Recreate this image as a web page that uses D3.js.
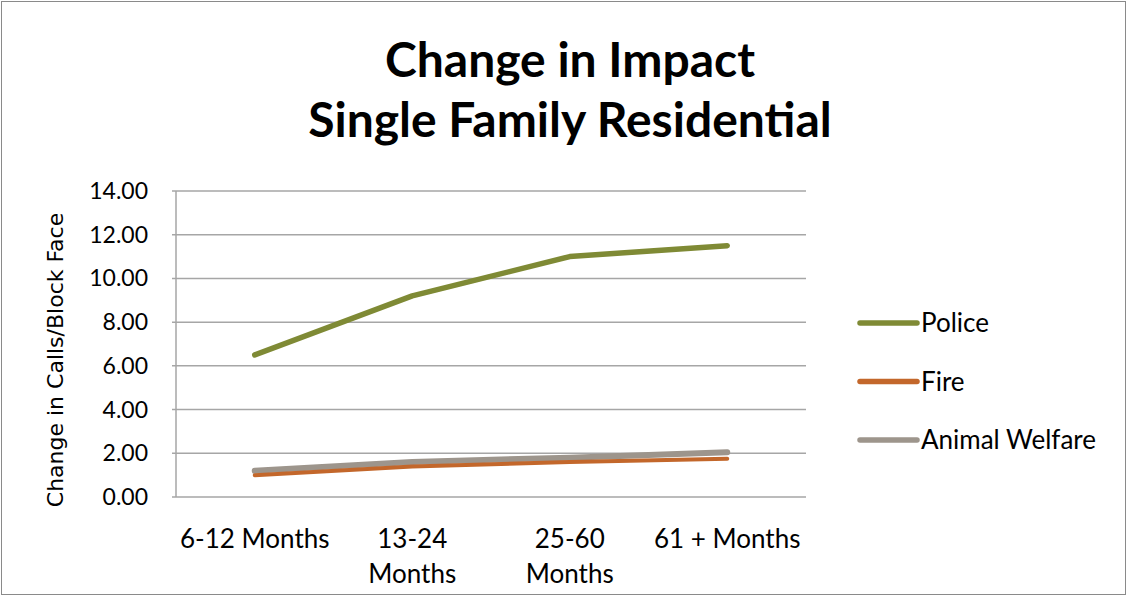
<!DOCTYPE html>
<html>
<head>
<meta charset="utf-8">
<style>
  body { margin: 0; background: #fff; }
  text { font-family: Lato, "Open Sans", sans-serif; fill: #000; }
</style>
</head>
<body>
<script src="https://cdn.jsdelivr.net/npm/d3@7"></script>
<script>
// data
var categories = ["6-12 Months", "13-24 Months", "25-60 Months", "61 + Months"];
var categoryLines = [["6-12 Months"], ["13-24", "Months"], ["25-60", "Months"], ["61 + Months"]];
var seriesNames = ["Police", "Fire", "Animal Welfare"];
var police = [6.5, 9.2, 11.0, 11.5];
var fire = [1.0, 1.4, 1.6, 1.75];
var animalWelfare = [1.2, 1.6, 1.8, 2.05];
var yTicks = [0, 2, 4, 6, 8, 10, 12, 14];

var width = 1127, height = 596;
var margin = {top: 191, right: 321, bottom: 99, left: 176};
var plotW = width - margin.left - margin.right;
var plotH = height - margin.top - margin.bottom;

var colors = ["#7f8a35", "#c3672b", "#9d958c"];
var widths = [5.5, 4, 6];

var svg = d3.select("body").append("svg")
  .attr("width", width)
  .attr("height", height);

// outer frame
svg.append("rect")
  .attr("x", 1.5).attr("y", 1.5)
  .attr("width", width - 3).attr("height", height - 3)
  .attr("fill", "none").attr("stroke", "#8a8a8a").attr("stroke-width", 1);

// title
svg.append("text")
  .attr("x", 570).attr("y", 77)
  .attr("text-anchor", "middle")
  .style("font-size", "48px").style("font-weight", "bold")
  .text("Change in Impact");
svg.append("text")
  .attr("x", 570).attr("y", 137)
  .attr("text-anchor", "middle")
  .style("font-size", "48px").style("font-weight", "bold")
  .text("Single Family Residential");

var g = svg.append("g").attr("transform", "translate(" + margin.left + "," + margin.top + ")");

var x = d3.scaleBand().domain(categories).range([0, plotW]);
var y = d3.scaleLinear().domain([0, 14]).range([plotH, 0]);

// gridlines
g.selectAll(".grid")
  .data(yTicks)
  .enter().append("line")
  .attr("x1", -4).attr("x2", plotW)
  .attr("y1", function(d) { return y(d); })
  .attr("y2", function(d) { return y(d); })
  .attr("stroke", "#a6a6a6").attr("stroke-width", 1.5);

// y axis line
g.append("line")
  .attr("x1", 0).attr("x2", 0)
  .attr("y1", 0).attr("y2", plotH)
  .attr("stroke", "#a6a6a6").attr("stroke-width", 1.5);

// y tick labels
g.selectAll(".ylab")
  .data(yTicks)
  .enter().append("text")
  .attr("x", -28)
  .attr("y", function(d) { return y(d); })
  .attr("dy", "0.35em")
  .attr("text-anchor", "end")
  .style("font-size", "23px")
  .text(function(d) { return d.toFixed(2); });

// x labels
categories.forEach(function(c, i) {
  var t = g.append("text")
    .attr("x", x(c) + x.bandwidth() / 2)
    .attr("y", plotH + 51)
    .attr("text-anchor", "middle")
    .style("font-size", "26px");
  categoryLines[i].forEach(function(line, j) {
    t.append("tspan")
      .attr("x", x(c) + x.bandwidth() / 2)
      .attr("dy", j === 0 ? 0 : 35)
      .text(line);
  });
});

// y axis title
svg.append("text")
  .attr("transform", "translate(63," + 360 + ") rotate(-90)")
  .attr("text-anchor", "middle")
  .style("font-family", "'DejaVu Sans', sans-serif")
  .style("font-size", "22px")
  .text("Change in Calls/Block Face");

// lines
var seriesValues = [police, fire, animalWelfare];
var line = d3.line()
  .x(function(d, i) { return x(categories[i]) + x.bandwidth() / 2; })
  .y(function(d) { return y(d); });

[2, 1, 0].forEach(function(s) {
  g.append("path")
    .datum(seriesValues[s])
    .attr("d", line)
    .attr("fill", "none")
    .attr("stroke", colors[s])
    .attr("stroke-width", widths[s])
    .attr("stroke-linecap", "round")
    .attr("stroke-linejoin", "round");
});

// legend
var legend = svg.append("g");
seriesNames.forEach(function(name, i) {
  var ly = 323 + i * 58.5;
  legend.append("line")
    .attr("x1", 860).attr("x2", 917)
    .attr("y1", ly).attr("y2", ly)
    .attr("stroke", colors[i]).attr("stroke-width", 5.5)
    .attr("stroke-linecap", "round");
  legend.append("text")
    .attr("x", 921).attr("y", ly)
    .attr("dy", "0.35em")
    .style("font-size", "26px")
    .text(name);
});
</script>
</body>
</html>
